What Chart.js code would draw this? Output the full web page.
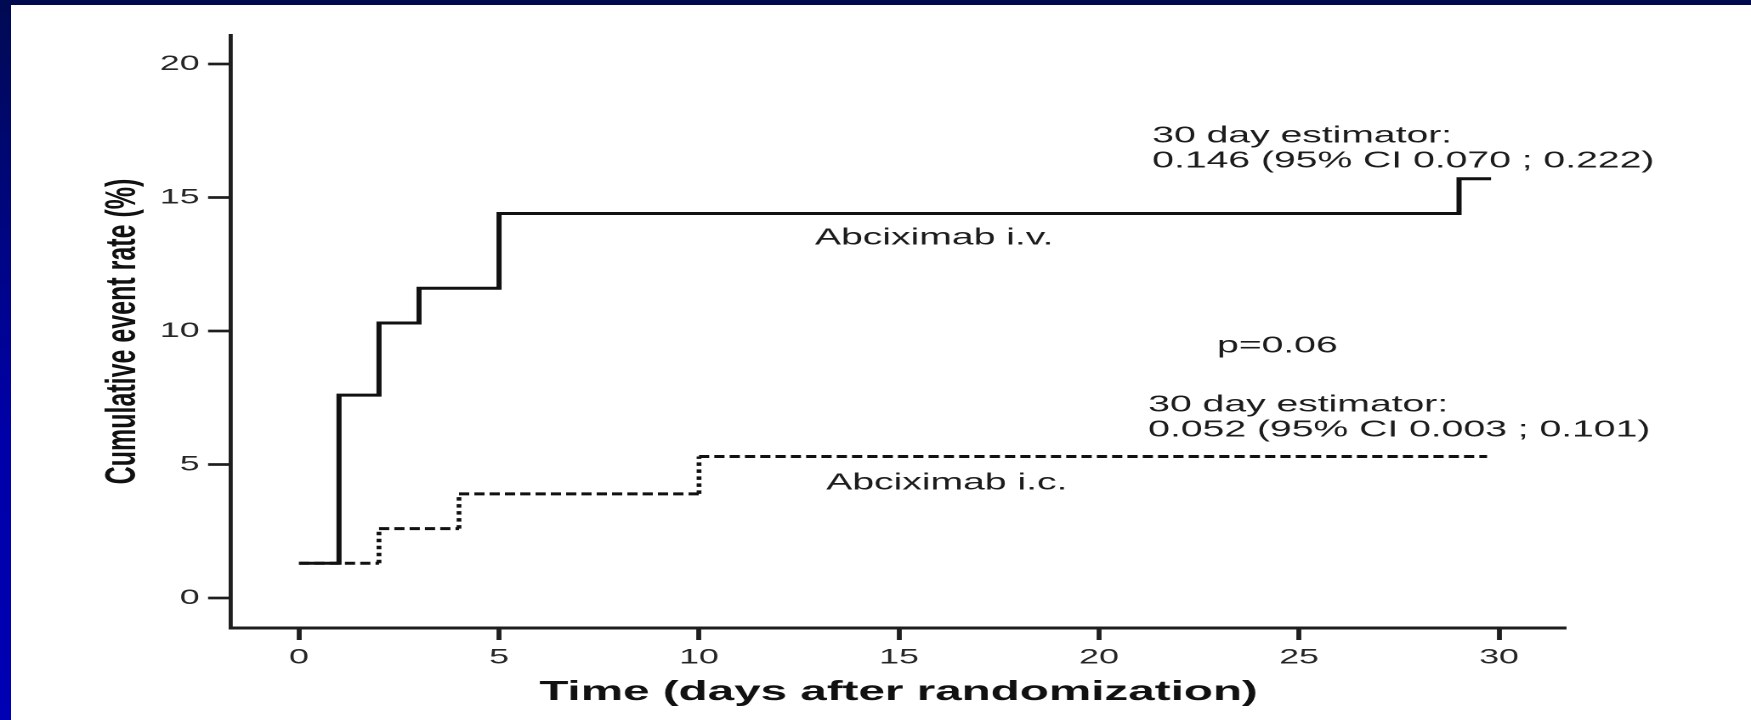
<!DOCTYPE html>
<html>
<head>
<meta charset="utf-8">
<script src="https://cdn.jsdelivr.net/npm/chart.js@4/dist/chart.umd.min.js"></script>
<style>
  html, body { margin: 0; padding: 0; background: #fff; width: 1751px; height: 720px; overflow: hidden; }
  /* the slide figure is laid out narrow and widened horizontally */
  #stage { position: absolute; left: 0; top: 0; width: 1030px; height: 720px; transform: scaleX(1.7); transform-origin: 0 0; }
  #topBand { position: absolute; left: 0; top: 0; width: 1751px; height: 5px; background: #000a4e; z-index: 2; }
  #leftBand { position: absolute; left: 0; top: 0; width: 11px; height: 720px; background: linear-gradient(#000a52, #0000a8 60%, #0000b4); z-index: 2; }
</style>
</head>
<body>
<div id="stage"><canvas id="km"></canvas></div>
<div id="topBand"></div>
<div id="leftBand"></div>
<script>
// Kaplan-Meier cumulative event rates (%) by day after randomization
const ivEventDays = [0, 1, 2, 3, 5, 29];
const ivRates     = [1.3, 7.6, 10.3, 11.6, 14.4, 15.7];
const ivLastDay   = 29.8;

const icEventDays = [0, 2, 4, 10];
const icRates     = [1.3, 2.6, 3.9, 5.3];
const icLastDay   = 29.7;

const xTickValues = [0, 5, 10, 15, 20, 25, 30];
const yTickValues = [0, 5, 10, 15, 20];

const FONT = "'Liberation Sans', Arial, sans-serif";

// text placed on the plot, in data coordinates
const notes = [
  { x: 21.33, y: 17.3,  text: '30 day estimator:' },
  { x: 21.33, y: 16.36, text: '0.146 (95% CI 0.070 ; 0.222)' },
  { x: 12.9,  y: 13.48, text: 'Abciximab i.v.' },
  { x: 22.95, y: 9.44,  text: 'p=0.06' },
  { x: 21.23, y: 7.23,  text: '30 day estimator:' },
  { x: 21.23, y: 6.29,  text: '0.052 (95% CI 0.003 ; 0.101)' },
  { x: 13.18, y: 4.31,  text: 'Abciximab i.c.' }
];

// expand event days/levels into explicit horizontal + vertical steps
function stepPoints(days, rates, lastDay) {
  const pts = [];
  for (let i = 0; i < days.length; i++) {
    const next = i + 1 < days.length ? days[i + 1] : lastDay;
    pts.push({ x: days[i], y: rates[i] });
    pts.push({ x: next, y: rates[i] });
  }
  return pts;
}

const isVertical = ctx => ctx.p0.parsed.x === ctx.p1.parsed.x;

const notesPlugin = {
  id: 'notes',
  afterDatasetsDraw(chart) {
    const { ctx, scales } = chart;
    ctx.save();
    ctx.font = '23px ' + FONT;
    ctx.fillStyle = '#1c1c1c';
    ctx.textAlign = 'left';
    ctx.textBaseline = 'middle';
    for (const n of notes) {
      ctx.fillText(n.text, scales.x.getPixelForValue(n.x), scales.y.getPixelForValue(n.y));
    }
    ctx.restore();
  }
};

new Chart(document.getElementById('km'), {
  type: 'line',
  data: {
    datasets: [
      {
        label: 'Abciximab i.v.',
        data: stepPoints(ivEventDays, ivRates, ivLastDay),
        borderColor: '#111',
        borderWidth: 3,
        pointRadius: 0,
        borderJoinStyle: 'miter',
        tension: 0
      },
      {
        label: 'Abciximab i.c.',
        data: stepPoints(icEventDays, icRates, icLastDay),
        borderColor: '#111',
        borderWidth: 3,
        pointRadius: 0,
        tension: 0,
        segment: {
          borderDash: ctx => isVertical(ctx) ? [3.5, 3.5] : [6, 3],
          borderWidth: ctx => isVertical(ctx) ? 2.8 : 3
        }
      }
    ]
  },
  options: {
    responsive: true,
    maintainAspectRatio: false,
    devicePixelRatio: 2,
    animation: false,
    events: [],
    layout: { padding: { top: 35, right: 108.8, bottom: 0, left: 0 } },
    plugins: { legend: { display: false }, tooltip: { enabled: false } },
    scales: {
      x: {
        type: 'linear',
        min: -1.7,
        max: 31.675,
        afterBuildTicks: s => { s.ticks = xTickValues.map(v => ({ value: v })); },
        afterFit: s => { s.height = 92; },
        border: { display: true, color: '#1e1e1e', width: 3 },
        grid: { drawOnChartArea: false, drawTicks: true, tickLength: 12, tickWidth: 2.9, tickColor: '#1e1e1e' },
        ticks: { color: '#262626', font: { family: FONT, size: 21 }, padding: 5, maxRotation: 0, autoSkip: false },
        title: {
          display: true,
          text: 'Time (days after randomization)',
          color: '#111',
          font: { family: FONT, size: 28, weight: 'bold' },
          padding: { top: 0, bottom: 11 }
        }
      },
      y: {
        type: 'linear',
        min: -1.124,
        max: 21.086,
        afterBuildTicks: s => { s.ticks = yTickValues.map(v => ({ value: v })); },
        afterFit: s => { s.width = 135.88; },
        border: { display: true, color: '#1e1e1e', width: 2.4 },
        grid: { drawOnChartArea: false, drawTicks: true, tickLength: 13.5, tickWidth: 2.7, tickColor: '#1e1e1e' },
        ticks: { color: '#262626', font: { family: FONT, size: 21 }, padding: 5 },
        title: {
          display: true,
          text: 'Cumulative event rate (%)',
          color: '#111',
          font: { family: FONT, size: 25, weight: 'bold' },
          padding: { top: 57.4, bottom: 0 }
        }
      }
    }
  },
  plugins: [notesPlugin]
});
</script>
</body>
</html>
